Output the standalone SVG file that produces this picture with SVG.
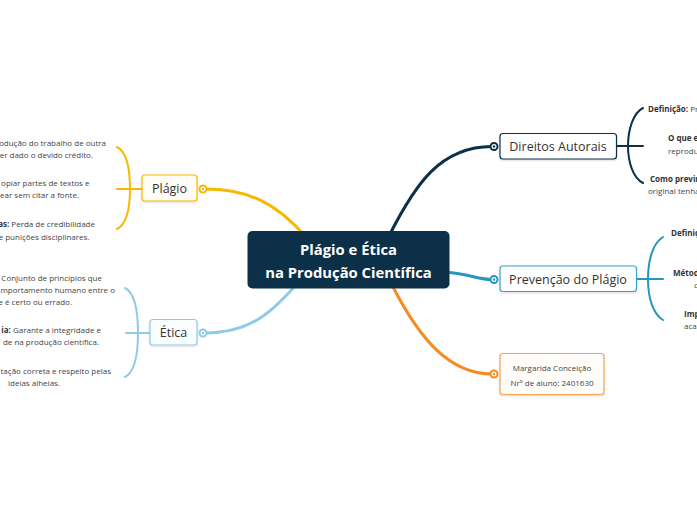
<svg xmlns="http://www.w3.org/2000/svg" width="697" height="520" viewBox="0 0 697 520">
<style>
.node rect{stroke-width:1.2}
.lbl{font-family:"Open Sans","Noto Sans",sans-serif;font-size:12.5px;fill:#333;text-anchor:middle}
.ct{font-family:"Open Sans","Noto Sans",sans-serif;font-size:14.8px;font-weight:bold;fill:#fff;text-anchor:middle}
.sm{font-family:"Open Sans","Noto Sans",sans-serif;font-size:8px;fill:#444}
.b{font-weight:bold;fill:#333}
.conn path{fill:none;stroke-linecap:round}
.ring{fill:#fff;stroke-width:2}
</style>
<defs>
<filter id="sh" x="-10%" y="-20%" width="120%" height="150%">
<feDropShadow dx="0" dy="1" stdDeviation="1" flood-color="#000" flood-opacity="0.15"/>
</filter>
</defs>
<rect width="697" height="520" fill="#fff"/>
<g class="conn">
<path d="M205 189 C250 189 278 205 305 236" stroke="#f9b800" stroke-width="3"/>
<path d="M205 333 C250 333 272 312 295 286" stroke="#8fcbe7" stroke-width="3"/>
<path d="M390 234 C415 185 440 146.5 492 146.5" stroke="#0b3047" stroke-width="3"/>
<path d="M445 272 C470 274 478 279.5 492 279.5" stroke="#2596be" stroke-width="3"/>
<path d="M392 285 C420 340 450 374 492 374" stroke="#f68b1f" stroke-width="3"/>
<path d="M117 147 C127 152 130 170 130 189 C130 208 127 224 117 229 M117 189 L142 189" stroke="#f9b800" stroke-width="2"/>
<path d="M125 288 C135 293 138 312 138 333 C138 354 135 372 125 377 M126 333 L150 333" stroke="#8fcbe7" stroke-width="2"/>
<path d="M643 108 C633 113 628 130 628 146 C628 162 633 178 643 183 M616 146 L643 146" stroke="#0b3047" stroke-width="2"/>
<path d="M663 237 C653 243 648 260 648 279 C648 298 653 314 663 320 M636 279 L663 279" stroke="#2596be" stroke-width="2"/>
</g>
<g id="central" class="node">
<rect x="247.5" y="231" width="202" height="57.5" rx="5" fill="#0b3047"/>
<text class="ct" x="348.5" y="255">Plágio e Ética</text>
<text class="ct" x="348.5" y="278">na Produção Científica</text>
</g>
<g id="plagio" class="node">
<rect x="142" y="175" width="55" height="26" rx="3" fill="#fffdf6" stroke="#f9b800" filter="url(#sh)"/>
<text class="lbl" x="169.5" y="193">Plágio</text>
<circle class="ring" cx="203" cy="189" r="3.5" stroke="#f9b800"/>
<circle cx="203" cy="189" r="1.2" fill="#f9b800"/>
</g>
<g id="plagio-children">
<text class="sm" x="106" y="146" text-anchor="end">odução do trabalho de outra</text>
<text class="sm" x="93" y="158" text-anchor="end">er dado o devido crédito.</text>
<text class="sm" x="89.5" y="186" text-anchor="end">opiar partes de textos e</text>
<text class="sm" x="79" y="198" text-anchor="end">ear sem citar a fonte.</text>
<text class="sm" x="95" y="227" text-anchor="end"><tspan class="b">as:</tspan> Perda de credibilidade</text>
<text class="sm" x="89.5" y="239.5" text-anchor="end">e punições disciplinares.</text>
</g>
<g id="etica" class="node">
<rect x="150" y="319.5" width="47" height="25.5" rx="3" fill="#fbfeff" stroke="#8fcbe7" filter="url(#sh)"/>
<text class="lbl" x="173.5" y="337">Ética</text>
<circle class="ring" cx="203" cy="333" r="3.5" stroke="#8fcbe7"/>
<circle cx="203" cy="333" r="1.2" fill="#8fcbe7"/>
</g>
<g id="etica-children">
<text class="sm" x="102" y="281" text-anchor="end">Conjunto de princípios que</text>
<text class="sm" x="115" y="293" text-anchor="end">mportamento humano entre o</text>
<text class="sm" x="72" y="305" text-anchor="end">e é certo ou errado.</text>
<text class="sm" x="101" y="333" text-anchor="end"><tspan class="b">ia:</tspan> Garante a integridade e</text>
<text class="sm" x="99" y="345" text-anchor="end">de na produção científica.</text>
<text class="sm" x="111" y="374" text-anchor="end">tação correta e respeito pelas</text>
<text class="sm" x="34" y="386" text-anchor="middle">ideias alheias.</text>
</g>
<g id="direitos" class="node">
<rect x="500" y="133.5" width="116.5" height="25.5" rx="3" fill="#fff" stroke="#0b3047" filter="url(#sh)"/>
<text class="lbl" x="558" y="151">Direitos Autorais</text>
<circle class="ring" cx="494" cy="146.5" r="3.5" stroke="#0b3047"/>
<circle cx="494" cy="146.5" r="1.2" fill="#0b3047"/>
</g>
<g id="direitos-children">
<text class="sm" x="648" y="112"><tspan class="b">Definição:</tspan> Pr</text>
<text class="sm b" x="668" y="141">O que e</text>
<text class="sm" x="668" y="154">reprodu</text>
<text class="sm b" x="650" y="182">Como previn</text>
<text class="sm" x="648" y="194">original tenha</text>
</g>
<g id="prevencao" class="node">
<rect x="500" y="266" width="136.5" height="25.5" rx="3" fill="#fff" stroke="#3aa3c9" filter="url(#sh)"/>
<text class="lbl" x="568" y="283.5">Prevenção do Plágio</text>
<circle class="ring" cx="494" cy="279.5" r="3.5" stroke="#2596be"/>
<circle cx="494" cy="279.5" r="1.2" fill="#2596be"/>
</g>
<g id="prevencao-children">
<text class="sm b" x="671" y="235.5">Definiç</text>
<text class="sm b" x="673" y="276">Métod</text>
<text class="sm" x="694" y="288">c</text>
<text class="sm b" x="684" y="317">Imp</text>
<text class="sm" x="684" y="329">aca</text>
</g>
<g id="margarida" class="node">
<rect x="500" y="353.5" width="104" height="41" rx="3" fill="#fffdfa" stroke="#f7a24d" filter="url(#sh)"/>
<text class="sm" x="552" y="371" text-anchor="middle" fill="#444">Margarida Conceição</text>
<text class="sm" x="552" y="386" text-anchor="middle" fill="#444">Nrº de aluno: 2401630</text>
<circle class="ring" cx="494" cy="374" r="3.5" stroke="#f68b1f"/>
<circle cx="494" cy="374" r="1.2" fill="#f68b1f"/>
</g>
</svg>
